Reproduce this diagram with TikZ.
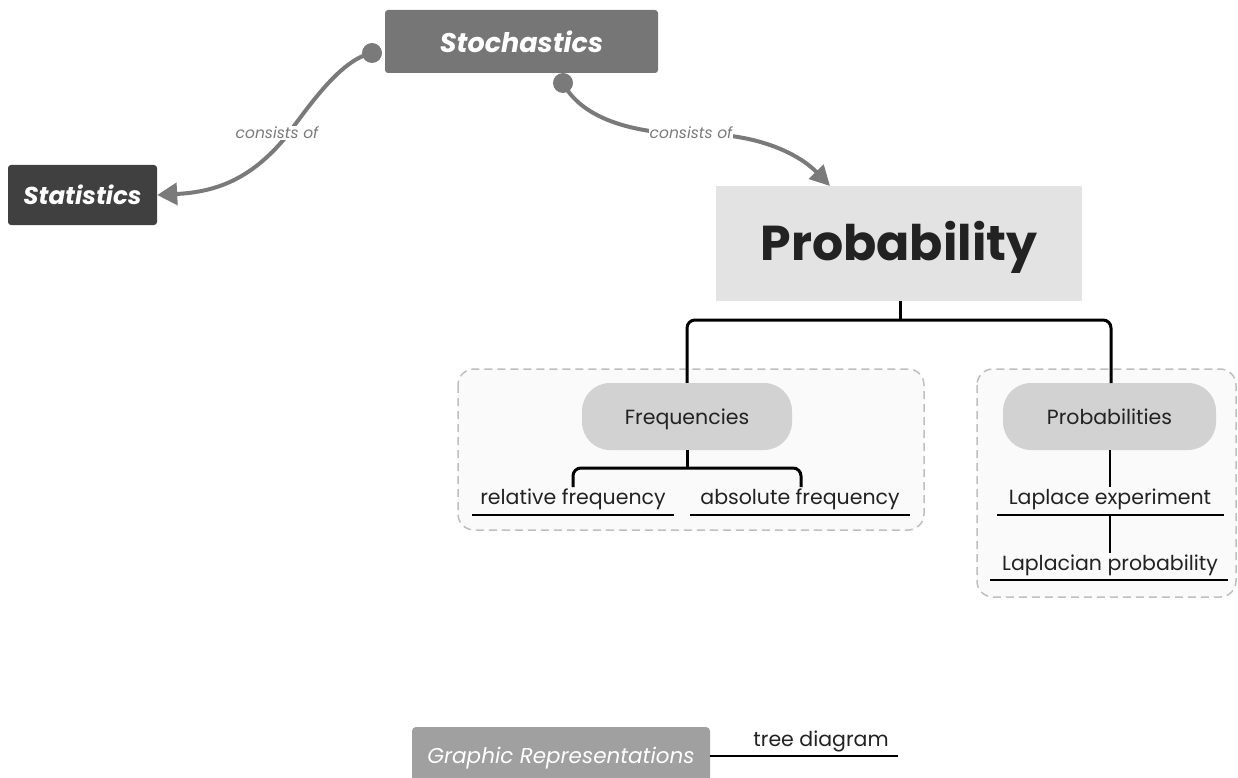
\documentclass[tikz,border=0pt]{standalone}
\usepackage{fontspec}
\setmainfont{Poppins}
\usetikzlibrary{arrows.meta}
\definecolor{stoch}{HTML}{767676}
\definecolor{statc}{HTML}{404040}
\definecolor{probc}{HTML}{E3E3E3}
\definecolor{pillc}{HTML}{D2D2D2}
\definecolor{grc}{HTML}{A0A0A0}
\definecolor{linkc}{HTML}{7A7A7A}
\definecolor{txt}{HTML}{222222}
\tikzset{
  topbox/.style={draw=none, rounded corners=3pt, inner sep=0pt, text=white, font=\bfseries\itshape},
  pill/.style={fill=pillc, rounded corners=28pt, minimum width=210pt, minimum height=67pt, inner sep=0pt, text=txt, text height=16pt, text depth=1pt, font=\fontsize{20.5}{22}\selectfont},
  grp/.style={draw=black!25, dash pattern=on 8pt off 5pt, line width=1.5pt, fill=black!2, rounded corners=16pt},
  tree/.style={draw=black, line width=3pt, rounded corners=8pt},
  leaf/.style={inner sep=0pt, text=txt, font=\fontsize{20.5}{22}\selectfont},
  uline/.style={draw=black, line width=2.8pt},
  link/.style={draw=linkc, line width=4pt},
  lbl/.style={text=linkc, font=\itshape\fontsize{15.5}{17}\selectfont, inner sep=1pt},
  dot/.style={circle, fill=linkc, minimum size=20pt, inner sep=0pt}
}
\begin{document}
\begin{tikzpicture}[x=1pt,y=-1pt]
\useasboundingbox (0,0) rectangle (1238,778);
% groups
\draw[grp] (458,369) rectangle (924,530);
\draw[grp] (977,369) rectangle (1236,597);
% main nodes
\node[topbox, fill=stoch, minimum width=273pt, minimum height=63pt, font=\bfseries\itshape\fontsize{27}{30}\selectfont] (stoch) at (521.5,41.5) {Stochastics};
\node[topbox, fill=statc, minimum width=149pt, minimum height=60pt, font=\bfseries\itshape\fontsize{24.5}{27}\selectfont] (stat) at (82.5,195) {Statistics};
\node[fill=probc, minimum width=366pt, minimum height=115pt, inner sep=0pt, text=txt, text height=38pt, text depth=4pt, font=\bfseries\fontsize{49}{54}\selectfont] (prob) at (899,243.5) {Probability};
\node[pill] (freq) at (687,416.5) {Frequencies};
\node[pill, minimum width=213pt] (probs) at (1109.5,416.5) {Probabilities};
\node[leaf] (rel) at (573,499) {relative frequency};
\node[leaf] (abs) at (800,499) {absolute frequency};
\node[leaf] (lexp) at (1110,499) {Laplace experiment};
\node[leaf] (lprob) at (1110,565) {Laplacian probability};
\node[topbox, fill=grc, rounded corners=4pt, minimum width=298pt, minimum height=62pt, font=\itshape\fontsize{21.5}{24}\selectfont] (graph) at (561,758) {Graphic Representations};
\node[leaf] (tree) at (821,741) {tree diagram};
% underlines
\coordinate (relL) at (472,515); \coordinate (relR) at (674,515);
\coordinate (absL) at (690,515); \coordinate (absR) at (910,515);
\coordinate (lexL) at (997,515); \coordinate (lexR) at (1224,515);
\coordinate (lpL) at (990,580); \coordinate (lpR) at (1228,580);
\coordinate (trL) at (710,756); \coordinate (trR) at (898,756);
\draw[uline] (relL) -- (relR);
\draw[uline] (absL) -- (absR);
\draw[uline] (lexL) -- (lexR);
\draw[uline] (lpL) -- (lpR);
\draw[uline] (trL) -- (trR);
% tree lines
\coordinate (pb) at (900,301);
\coordinate (pj) at (900,320);
\coordinate (fj) at (687,468);
\draw[tree] (pb) -- (pj);
\draw[tree] (freq.north) -- (687,320) -- (1111,320) -- (1111,383);
\draw[tree] (freq.south) -- (fj);
\draw[tree] (573,487) -- (573,468) -- (801,468) -- (801,487);
\draw[line width=2.4pt] (1110,450) -- (1110,487);
\draw[line width=2.4pt] (1110,515) -- (1110,553);
% links
\node[dot] (d1) at (372,53) {};
\node[dot] (d2) at (563,83) {};
\draw[link, -{Triangle[length=20pt,width=22pt]}] (d1.center) .. controls (340,60) and (310,105) .. (285,138) .. controls (250,180) and (215,192) .. (stat.east);
\draw[link, -{Triangle[length=20pt,width=20pt]}] (d2.center) .. controls (585,125) and (650,135) .. (700,134) .. controls (760,134) and (800,155) .. (830,186);
\node[lbl, fill=white] (l1) at (277,133) {consists of};
\node[lbl, fill=white] (l2) at (691,133) {consists of};
\end{tikzpicture}
\end{document}
